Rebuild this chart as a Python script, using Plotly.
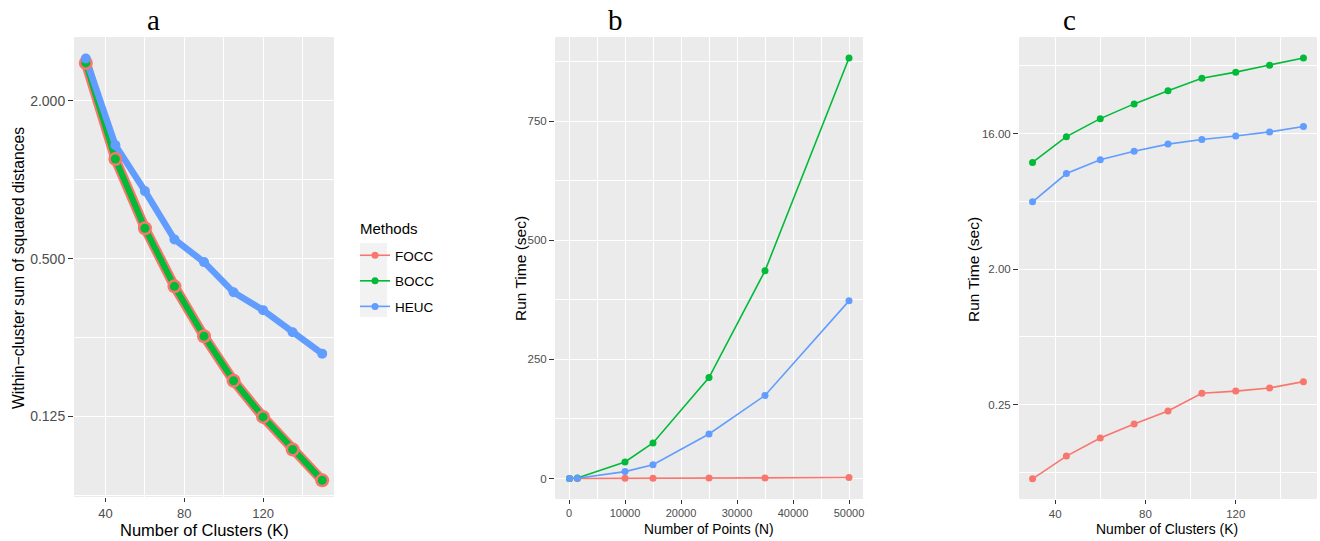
import plotly.graph_objects as go
import math

# ---------------- data ----------------
methods = ["FOCC", "BOCC", "HEUC"]
colors = {"FOCC": "#F8766D", "BOCC": "#00BA38", "HEUC": "#619CFF"}

K = [30, 45, 60, 75, 90, 105, 120, 135, 150]
wcss_focc = [2.79, 1.20, 0.653, 0.392, 0.253, 0.171, 0.1245, 0.0935, 0.0713]
wcss_bocc = [2.79, 1.20, 0.653, 0.392, 0.253, 0.171, 0.1245, 0.0935, 0.0713]
wcss_heuc = [2.90, 1.355, 0.905, 0.592, 0.485, 0.372, 0.318, 0.262, 0.217]

N = [100, 1500, 10000, 15000, 25000, 35000, 50000]
time_n_focc = [0.05, 0.1, 0.4, 0.6, 0.9, 1.3, 2.0]
time_n_bocc = [0.2, 1.0, 34.7, 74.6, 212, 436, 883]
time_n_heuc = [0.1, 0.5, 14.5, 29, 93.4, 174.5, 373]

time_k_focc = [0.0802, 0.1137, 0.150, 0.186, 0.227, 0.298, 0.308, 0.323, 0.356]
time_k_bocc = [10.26, 15.25, 20.1, 25.2, 30.8, 37.3, 41.0, 45.6, 51.0]
time_k_heuc = [5.61, 8.66, 10.7, 12.2, 13.6, 14.6, 15.4, 16.4, 17.8]

ticks_a_y = [0.125, 0.5, 2.0]
ticks_a_y_text = ["0.125", "0.500", "2.000"]
ticks_k = [40, 80, 120]
ticks_b_x = [0, 10000, 20000, 30000, 40000, 50000]
ticks_b_y = [0, 250, 500, 750]
ticks_c_y = [0.25, 2.0, 16.0]
ticks_c_y_text = ["0.25", "2.00", "16.00"]

# ---------------- layout helpers ----------------
W, H = 1320, 541
def px(x):
    return x / W
def py(y):
    return 1 - y / H

SANS = "Liberation Sans, Arial, sans-serif"
SERIF = "Liberation Serif, DejaVu Serif, serif"

fig = go.Figure()

# legend-only traces
for m in methods:
    fig.add_trace(go.Scatter(
        x=[None], y=[None], mode="lines+markers", name=m,
        line=dict(color=colors[m], width=1.6),
        marker=dict(color=colors[m], size=7),
        legendgroup=m, showlegend=True, xaxis="x", yaxis="y"))

# ---- panel a ----
wcss = {"FOCC": wcss_focc, "BOCC": wcss_bocc, "HEUC": wcss_heuc}
lw_a = {"FOCC": 10, "BOCC": 6, "HEUC": 6.5}
ms_a = {"FOCC": 14, "BOCC": 9, "HEUC": 10}
for m in methods:
    fig.add_trace(go.Scatter(x=K, y=wcss[m], mode="lines", showlegend=False,
                             line=dict(color=colors[m], width=lw_a[m]),
                             xaxis="x", yaxis="y"))
for m in methods:
    fig.add_trace(go.Scatter(x=K, y=wcss[m], mode="markers", showlegend=False,
                             marker=dict(color=colors[m], size=ms_a[m]),
                             xaxis="x", yaxis="y"))

# ---- panel b ----
tn = {"FOCC": time_n_focc, "BOCC": time_n_bocc, "HEUC": time_n_heuc}
for m in methods:
    fig.add_trace(go.Scatter(x=N, y=tn[m], mode="lines", showlegend=False,
                             line=dict(color=colors[m], width=1.6),
                             xaxis="x2", yaxis="y2"))
for m in methods:
    fig.add_trace(go.Scatter(x=N, y=tn[m], mode="markers", showlegend=False,
                             marker=dict(color=colors[m], size=7),
                             xaxis="x2", yaxis="y2"))

# ---- panel c ----
tk = {"FOCC": time_k_focc, "BOCC": time_k_bocc, "HEUC": time_k_heuc}
for m in methods:
    fig.add_trace(go.Scatter(x=K, y=tk[m], mode="lines", showlegend=False,
                             line=dict(color=colors[m], width=1.6),
                             xaxis="x3", yaxis="y3"))
for m in methods:
    fig.add_trace(go.Scatter(x=K, y=tk[m], mode="markers", showlegend=False,
                             marker=dict(color=colors[m], size=7),
                             xaxis="x3", yaxis="y3"))


def axis(domain, rng, tickvals, ticktext=None, minor_vals=None, fsize=11,
         anchor=None, typ="linear", ticklen=5):
    d = dict(domain=domain, range=rng, type=typ, tickmode="array",
             tickvals=tickvals, showgrid=True, gridcolor="white", gridwidth=1.4,
             zeroline=False, showline=False, ticks="outside", ticklen=ticklen,
             tickwidth=1.1, tickcolor="#333333",
             tickfont=dict(family=SANS, size=fsize, color="#4D4D4D"),
             anchor=anchor, fixedrange=True)
    if ticktext is not None:
        d["ticktext"] = ticktext
    if minor_vals is not None:
        d["minor"] = dict(tickmode="array", tickvals=minor_vals, showgrid=True,
                          gridcolor="white", gridwidth=0.7, ticks="")
    return d

l2 = math.log10(2)

fig.update_layout(
    width=W, height=H,
    margin=dict(l=0, r=0, t=0, b=0),
    paper_bgcolor="white", plot_bgcolor="#EBEBEB",
    xaxis=axis([px(74), px(334)], [24, 156], ticks_k, [str(v) for v in ticks_k],
               [60, 100, 140], fsize=13, anchor="y", ticklen=4),
    yaxis=axis([py(497), py(37)], [-4.021 * l2, 1.809 * l2], ticks_a_y, ticks_a_y_text,
               [0.0625, 0.25, 1.0, 4.0], fsize=14, anchor="x", typ="log"),
    xaxis2=axis([px(555), px(863)], [-2500, 52500], ticks_b_x, [str(v) for v in ticks_b_x],
                [5000, 15000, 25000, 35000, 45000], fsize=11, anchor="y2", ticklen=4),
    yaxis2=axis([py(499), py(37)], [-43, 927], ticks_b_y, [str(v) for v in ticks_b_y],
                [125, 375, 625, 875], fsize=11.5, anchor="x2"),
    xaxis3=axis([px(1019), px(1317)], [24, 156], ticks_k, [str(v) for v in ticks_k],
                [60, 100, 140], fsize=11.5, anchor="y3", ticklen=4),
    yaxis3=axis([py(499), py(37)], [-4.086 * l2, 6.135 * l2], ticks_c_y, ticks_c_y_text,
                [2 ** -3.5, 2 ** -0.5, 2 ** 2.5, 2 ** 5.5], fsize=11.5, anchor="x3", typ="log"),
    showlegend=True,
    legend=dict(x=px(355), y=py(240), xanchor="left", yanchor="top",
                bgcolor="rgba(0,0,0,0)", tracegroupgap=5,
                font=dict(family=SANS, size=13.5, color="black"),
                itemwidth=30),
)

ann = []
def add_text(text, x, y, size, family=SANS, angle=0, color="black", xanchor="center"):
    ann.append(dict(text=text, x=px(x), y=py(y), xref="paper", yref="paper",
                    xanchor=xanchor, yanchor="middle", showarrow=False,
                    textangle=angle, font=dict(family=family, size=size, color=color)))

add_text("a", 153, 20, 29, SERIF)
add_text("b", 615, 20, 29, SERIF)
add_text("c", 1069, 20, 29, SERIF)
add_text("Number of Clusters (K)", 204, 530, 16.5)
add_text("Within\u2212cluster sum of squared distances", 18, 268, 15.7, angle=-90)
add_text("Number of Points (N)", 709, 529, 13.8)
add_text("Run Time (sec)", 520, 269, 15.5, angle=-90)
add_text("Number of Clusters (K)", 1167, 529, 13.9)
add_text("Run Time (sec)", 973, 269, 15.5, angle=-90)
add_text("Methods", 358, 228, 15, xanchor="left")
fig.update_layout(annotations=ann)

# legend key background
fig.add_shape(type="rect", xref="paper", yref="paper",
              x0=px(360), x1=px(387), y0=py(317), y1=py(243),
              fillcolor="#F2F2F2", line=dict(width=0), layer="below")

fig.write_html("out.html", config={"displayModeBar": False},
               post_script="document.body.style.margin='0px';")
